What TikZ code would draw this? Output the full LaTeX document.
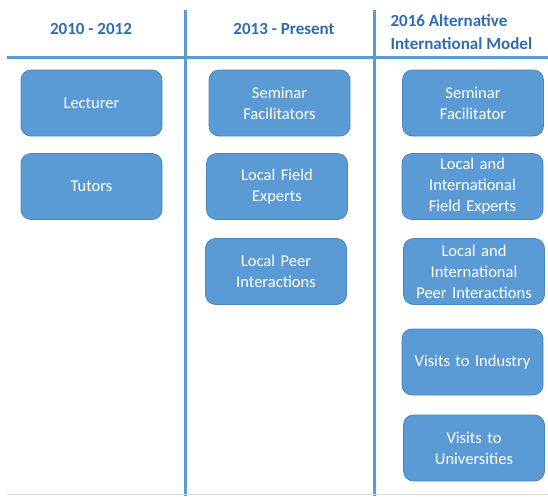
\documentclass[tikz,border=0pt]{standalone}
\usepackage{fontspec}
\setmainfont{Carlito}

\definecolor{boxblue}{RGB}{91,155,213}
\definecolor{boxedge}{RGB}{74,134,197}
\definecolor{headblue}{RGB}{46,108,178}
\definecolor{faintline}{RGB}{208,221,239}

\begin{document}
\begin{tikzpicture}[x=1pt, y=-1pt,
		box/.style={draw=boxedge, line width=0.8pt, fill=boxblue, rounded corners=10pt,
			minimum width=141pt, minimum height=66pt, text width=132pt, align=center,
			text=white, font=\fontsize{16.5}{21}\selectfont},
		head/.style={text=headblue, font=\bfseries\fontsize{17}{23}\selectfont},
		rule/.style={draw=boxblue, line width=3pt}]
		\useasboundingbox (0,0) rectangle (548,496);
		
		% column rules
		\coordinate (hl) at (7,57);
		\coordinate (hr) at (548,57);
		\coordinate (atop) at (185,10);
		\coordinate (abot) at (185,496);
		\coordinate (btop) at (374,10);
		\coordinate (bbot) at (374,496);
		\coordinate (fl) at (7,494);
		\coordinate (fr) at (548,494);
		\draw[rule] (hl) -- (hr);
		\draw[rule] (atop) -- (abot);
		\draw[rule] (btop) -- (bbot);
		\draw[faintline, line width=1pt] (fl) -- (fr);
		
		% headings
		\node[head] (h1) at (91,29) {2010 - 2012};
		\node[head] (h2) at (284,29) {2013 - Present};
		\node[head, align=left, anchor=west] (h3) at (387,32) {2016 Alternative\\International Model};
		
		% first column
		\node[box] (lecturer) at (91.5,103) {Lecturer};
		\node[box] (tutors) at (91.5,186.5) {Tutors};
		
		% second column
		\node[box] (seminar) at (279.5,103) {Seminar\\Facilitators};
		\node[box] (field) at (277,186.5) {Local Field\\Experts};
		\node[box] (peer) at (276,271.5) {Local Peer\\Interactions};
		
		% third column
		\node[box] (altseminar) at (473,103) {Seminar\\Facilitator};
		\node[box] (altfield) at (472.5,186.5) {Local and\\International\\Field Experts};
		\node[box] (altpeer) at (474,271.5) {Local and\\International\\Peer Interactions};
		\node[box] (industry) at (472.5,362) {Visits to Industry};
		\node[box] (unis) at (474,448) {Visits to\\Universities};
	
	\end{tikzpicture}
\end{document}
